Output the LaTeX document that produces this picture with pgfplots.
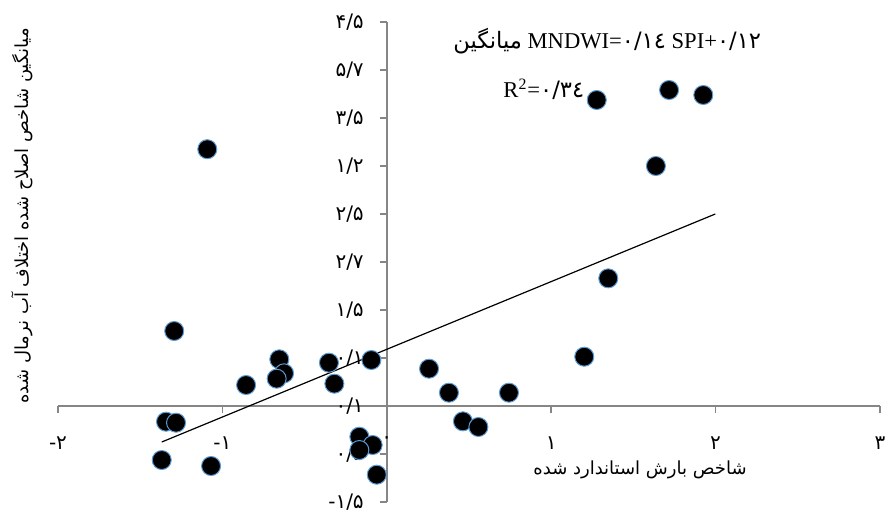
\documentclass[border=0pt]{standalone}
\usepackage{fontspec}
\usepackage{pgfplots}
\pgfplotsset{compat=1.18}
\usetikzlibrary{calc}
\setmainfont{Liberation Serif}
\newfontfamily\fa[Script=Arabic]{DejaVu Sans}
\newfontfamily\fadig{DejaVu Sans}
\TeXXeTstate=1
\definecolor{axgray}{HTML}{868686}
\definecolor{mkedge}{HTML}{5B9BD5}

\pgfplotstableread{
x y
-1.092 5.35
1.277 6.375
1.717 6.583
1.925 6.479
1.637 5.0
-1.293 1.5625
-0.654 0.973
-0.625 0.681
-0.670 0.569
-0.856 0.4375
-0.352 0.902
-0.319 0.465
-0.094 0.958
-1.343 -0.327
-1.282 -0.348
-1.369 -1.125
-1.069 -1.25
-0.167 -0.640
-0.086 -0.8125
-0.167 -0.917
-0.061 -1.431
0.257 0.777
0.378 0.277
0.743 0.277
1.201 1.027
0.463 -0.319
0.557 -0.4375
1.347 2.660
}\pts

\begin{document}
\begin{tikzpicture}
\begin{axis}[
  set layers,
  scale only axis,
  width=411pt, height=240pt,
  xmin=-2, xmax=3, ymin=-2, ymax=8,
  axis lines=middle,
  axis line style={-, draw=axgray, line width=0.75pt},
  tick style={draw=axgray, line width=0.75pt},
  tick align=outside,
  major tick length=3.5pt,
  xtick={-2,-1,0,1,2,3},
  xticklabels={-۲,-۱,۰,۱,۲,۳},
  ytick={-2,-1,0,1,2,3,4,5,6,7,8},
  yticklabels={-۱/۵,۰/۵,۰/۱,۰/۱,۱/۵,۲/۷,۲/۵,۱/۲,۳/۵,۵/۷,۴/۵},
  xticklabel style={font=\fadig\fontsize{10}{11}\selectfont, yshift=-8.5pt},
  yticklabel style={font=\fadig\fontsize{10}{11}\selectfont, xshift=-4.5pt},
  hide obscured x ticks=false, hide obscured y ticks=false,
  clip=false,
]
\addplot[only marks, mark=*, mark size=4.75pt, mark options={fill=black, draw=mkedge, line width=0.5pt}] table[x=x,y=y] {\pts};
\addplot[black, line width=0.6pt] coordinates {(-1.369,-0.75) (1.998,4.0)};
\coordinate (BL) at (rel axis cs:0,0);
\coordinate (TR) at (rel axis cs:1,1);
\node[rotate=90, font=\fa\fontsize{9}{11}\selectfont] at (rel axis cs:-0.0438,0.596) {\beginR میانگین شاخص اصلاح شده اختلاف آب نرمال شده\endR};
\node[font=\fa\fontsize{9}{11}\selectfont] at (rel axis cs:0.708,0.066) {\beginR شاخص بارش استاندارد شده\endR};
\node[anchor=base west, inner sep=0pt, font=\fontsize{11.3}{13}\selectfont] at (rel axis cs:0.4805,0.945) {{\fa\beginR میانگین\endR} MNDWI={\fadig ٠/١٤} SPI+{\fadig ٠/١٢}};
\node[anchor=base west, inner sep=0pt, font=\fontsize{11.3}{13}\selectfont] at (rel axis cs:0.5414,0.8423) {R\textsuperscript{2}={\fadig ٠/٣٤}};
\end{axis}
\pgfresetboundingbox
\useasboundingbox ($(BL)+(-29pt,-6.5pt)$) rectangle ($(TR)+(2.5pt,11pt)$);
\end{tikzpicture}
\end{document}
